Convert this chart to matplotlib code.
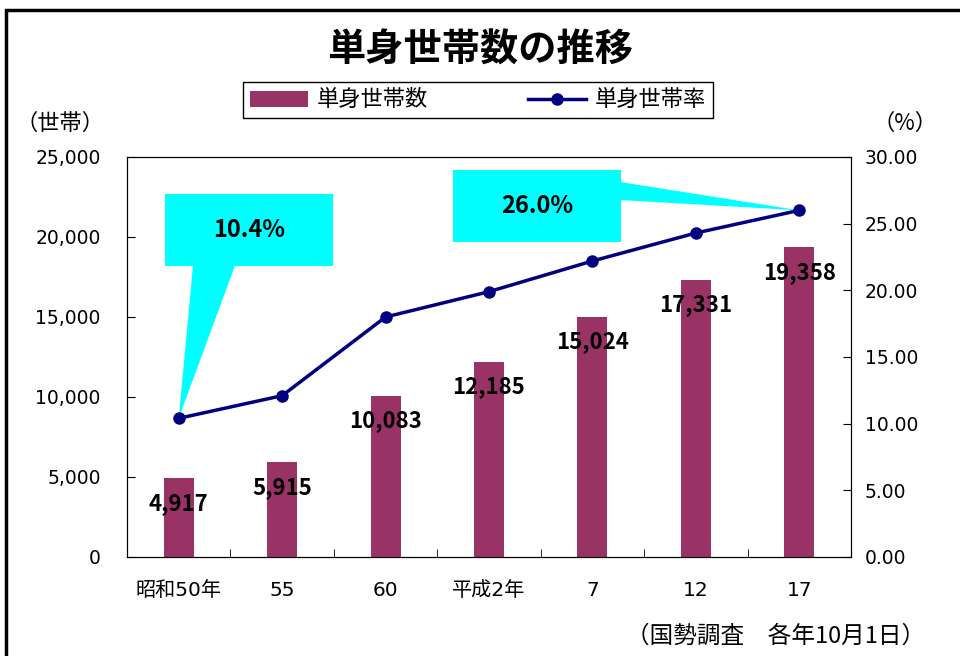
import matplotlib.pyplot as plt
from matplotlib.patches import Polygon, Rectangle

plt.rcParams['font.family'] = ['DejaVu Sans', 'Noto Sans CJK JP']
jp = ['Noto Sans CJK JP', 'DejaVu Sans']

years = ["昭和50年", "55", "60", "平成2年", "7", "12", "17"]
households = [4917, 5915, 10083, 12185, 15024, 17331, 19358]
rate = [10.4, 12.1, 18.0, 19.9, 22.2, 24.3, 26.0]

bar_color = "#993366"
line_color = "#000080"

fig = plt.figure(figsize=(9.6, 6.56), dpi=100)

# outer frame
fig.patches.append(Rectangle((6 / 960, -0.1), 1.2, 1 - 10 / 656 + 0.1, transform=fig.transFigure,
                             fill=False, edgecolor="black", linewidth=2.5))

ax = fig.add_axes([127 / 960, 1 - 557 / 656, 724 / 960, 400 / 656])
x = list(range(len(years)))
ax.bar(x, households, width=0.29, color=bar_color, zorder=2)
ax.set_xlim(-0.5, len(years) - 0.5)
ax.set_ylim(0, 25000)
ax.set_yticks(range(0, 25001, 5000))
ax.set_yticklabels([f"{v:,}" for v in range(0, 25001, 5000)], fontsize=13.5)
ax.set_xticks(x)
ax.set_xticklabels(years, fontsize=14.5)
ax.set_xticks([i + 0.5 for i in x[:-1]], minor=True)
ax.tick_params(axis="x", which="major", length=0, pad=17)
ax.tick_params(axis="x", which="minor", direction="in", length=6)
ax.tick_params(axis="y", direction="in", length=6, pad=19)

for i, v in enumerate(households):
    ax.annotate(f"{v:,}", (i, v), xytext=(0, -18), textcoords="offset points",
                ha="center", va="center", fontsize=16, fontweight="bold", family=jp, zorder=5)

ax2 = ax.twinx()
ax2.plot(x, rate, color=line_color, linewidth=2.5, marker="o", markersize=8, zorder=4)
ax2.set_ylim(0, 30)
ax2.set_yticks(range(0, 31, 5))
ax2.set_yticklabels([f"{v:.2f}" for v in range(0, 31, 5)], fontsize=13.5)
ax2.tick_params(axis="y", direction="in", length=6, pad=10)

# callouts: box in axes fraction, tip at data point
to_frac = ax2.transAxes.inverted()


def callout(box, base, idx, label):
    tip = to_frac.transform(ax2.transData.transform((x[idx], rate[idx])))
    x0, y0, x1, y1 = box
    ax2.add_patch(Rectangle((x0, y0), x1 - x0, y1 - y0, transform=ax2.transAxes,
                            facecolor="#00FFFF", edgecolor="none", zorder=3))
    ax2.add_patch(Polygon([base[0], base[1], tip], closed=True, transform=ax2.transAxes,
                          facecolor="#00FFFF", edgecolor="none", zorder=3))
    ax2.text((x0 + x1) / 2, (y0 + y1) / 2, label, transform=ax2.transAxes,
             ha="center", va="center", fontsize=17, fontweight="bold", family=jp, zorder=5)


callout((0.0525, 0.7275, 0.2845, 0.9075), ((0.0912, 0.7285), (0.1492, 0.7285)), 0, "10.4%")
callout((0.450, 0.7875, 0.682, 0.9675), ((0.681, 0.9375), (0.681, 0.8925)), 6, "26.0%")

fig.text(0.5, 1 - 50 / 656, "単身世帯数の推移", ha="center", va="center", fontsize=27.5,
         fontweight="bold", family=jp)
fig.text(60 / 960, 1 - 123 / 656, "（世帯）", ha="center", va="center", fontsize=16, family=jp)
fig.text(905 / 960, 1 - 123 / 656, "（%）", ha="center", va="center", fontsize=16, family=jp)
fig.text(925 / 960, 1 - 636 / 656, "（国勢調査　各年10月1日）", ha="right", va="center",
         fontsize=17, family=jp)

fig.legend([ax.patches[0], ax2.lines[0]], ["単身世帯数", "単身世帯率"],
           loc="center", bbox_to_anchor=(478 / 960, 1 - 100 / 656), ncol=2,
           prop={"family": jp, "size": 16},
           frameon=True, fancybox=False, edgecolor="black", framealpha=1,
           columnspacing=4.5, handlelength=2.6, handletextpad=0.4, borderpad=0.3,
           borderaxespad=0)

fig.savefig("out.png", dpi=100)
